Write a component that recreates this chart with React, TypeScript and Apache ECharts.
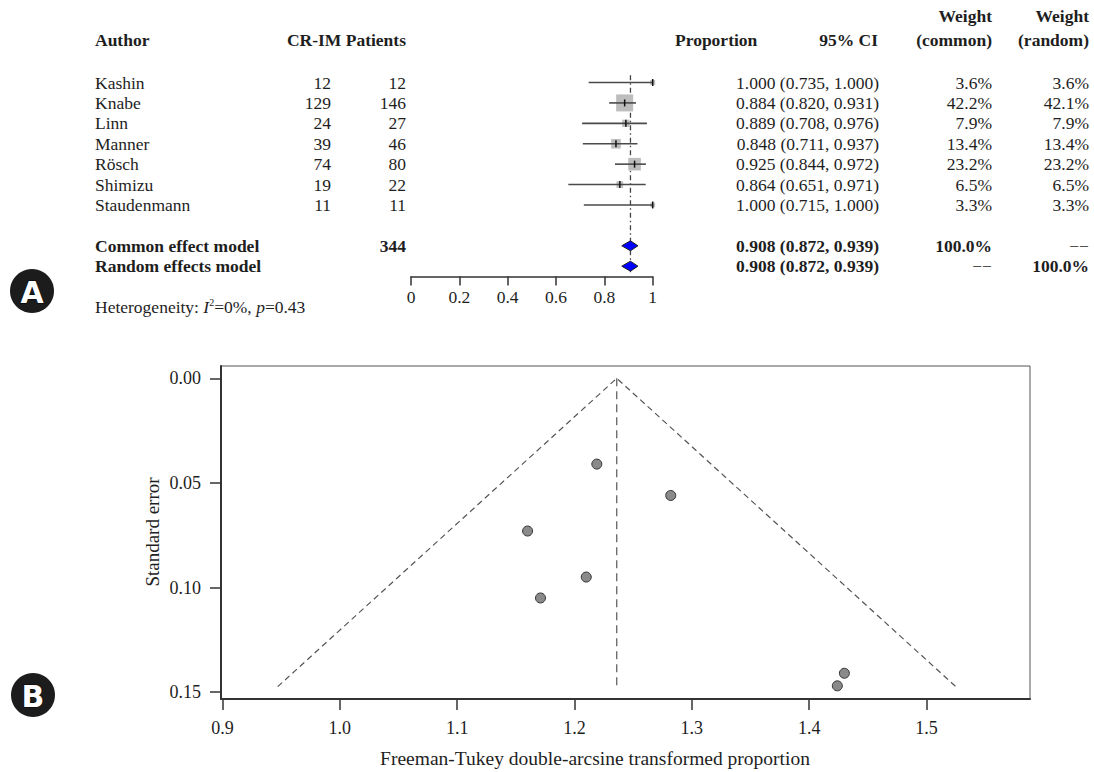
import React, { useEffect, useRef } from "react";
import * as echarts from "echarts";

// ---------- data (forest plot, panel A) ----------
const authors = ["Kashin", "Knabe", "Linn", "Manner", "Rösch", "Shimizu", "Staudenmann"];
const events = [12, 129, 24, 39, 74, 19, 11];
const totals = [12, 146, 27, 46, 80, 22, 11];
const proportions = [1.0, 0.884, 0.889, 0.848, 0.925, 0.864, 1.0];
const ciLower = [0.735, 0.82, 0.708, 0.711, 0.844, 0.651, 0.715];
const ciUpper = [1.0, 0.931, 0.976, 0.937, 0.972, 0.971, 1.0];
const weightCommon = [3.6, 42.2, 7.9, 13.4, 23.2, 6.5, 3.3];
const weightRandom = [3.6, 42.1, 7.9, 13.4, 23.2, 6.5, 3.3];
const totalPatients = 344;
const pooledEstimate = [0.908, 0.908]; // common, random
const pooledLower = [0.872, 0.872];
const pooledUpper = [0.939, 0.939];
const heterogeneityI2 = "0%";
const heterogeneityP = "0.43";

// ---------- data (funnel plot, panel B) ----------
const ftValues = [1.43, 1.219, 1.21, 1.16, 1.282, 1.171, 1.424];
const ftStdErr = [0.141, 0.041, 0.095, 0.073, 0.056, 0.105, 0.147];
const funnelCenter = 1.236;
const funnelMaxSE = 0.1474;
const funnelLeftX = 0.947;
const funnelRightX = 1.525;
const funnelXTicks = [0.9, 1.0, 1.1, 1.2, 1.3, 1.4, 1.5];
const funnelYTicks = [0, 0.05, 0.1, 0.15];

const FONT = '"Liberation Serif", "Times New Roman", serif';
const TXT = "#1e1e1e";
const FS = 17.5;
const MISSING = "\u2212\u2212";

const rowY = (i: number) => 82.5 + i * 20.41;

function txt(text: string, x: number, y: number, align: string, bold = false, size = FS): any {
  return {
    type: "text",
    x,
    y,
    silent: true,
    style: {
      text,
      fill: TXT,
      fontFamily: FONT,
      fontSize: size,
      fontWeight: bold ? "bold" : "normal",
      align,
      verticalAlign: "middle",
      textAlign: align,
      textVerticalAlign: "middle",
    },
  };
}

function badge(letter: string, cx: number, cy: number): any[] {
  return [
    { type: "circle", shape: { cx, cy, r: 22 }, style: { fill: "#1c1c1c" }, silent: true },
    {
      type: "text",
      x: cx,
      y: cy + 1,
      silent: true,
      style: {
        text: letter,
        fill: "#fff",
        stroke: "#000",
        lineWidth: 1,
        fontFamily: '"DejaVu Sans", sans-serif',
        fontWeight: "bold",
        fontSize: 30,
        align: "center",
        verticalAlign: "middle",
        textAlign: "center",
        textVerticalAlign: "middle",
      },
    },
  ];
}

export default function App() {
  const ref = useRef<HTMLDivElement>(null);

  useEffect(() => {
    document.body.style.margin = "0";
    if (!ref.current) return;
    const chart = echarts.init(ref.current, null, { renderer: "svg" });

    const graphics: any[] = [];
    graphics.push(txt("Author", 95, 40, "left", true));
    graphics.push(txt("CR-IM Patients", 406, 40, "right", true));
    graphics.push(txt("Proportion", 675, 40, "left", true));
    graphics.push(txt("95% CI", 878, 40, "right", true));
    graphics.push(txt("Weight", 992, 16, "right", true));
    graphics.push(txt("(common)", 992, 40, "right", true));
    graphics.push(txt("Weight", 1089, 16, "right", true));
    graphics.push(txt("(random)", 1089, 40, "right", true));

    authors.forEach((a, i) => {
      const y = rowY(i);
      graphics.push(txt(a, 95, y, "left"));
      graphics.push(txt(String(events[i]), 331, y, "right"));
      graphics.push(txt(String(totals[i]), 406, y, "right"));
      graphics.push(
        txt(
          `${proportions[i].toFixed(3)} (${ciLower[i].toFixed(3)}, ${ciUpper[i].toFixed(3)})`,
          879,
          y,
          "right"
        )
      );
      graphics.push(txt(`${weightCommon[i].toFixed(1)}%`, 992, y, "right"));
      graphics.push(txt(`${weightRandom[i].toFixed(1)}%`, 1089, y, "right"));
    });

    const yC = rowY(8);
    const yR = rowY(9);
    graphics.push(txt("Common effect model", 95, yC, "left", true));
    graphics.push(txt(String(totalPatients), 406, yC, "right", true));
    graphics.push(
      txt(
        `${pooledEstimate[0].toFixed(3)} (${pooledLower[0].toFixed(3)}, ${pooledUpper[0].toFixed(3)})`,
        879,
        yC,
        "right",
        true
      )
    );
    graphics.push(txt("100.0%", 992, yC, "right", true));
    graphics.push(txt(MISSING, 1089, yC, "right", false));
    graphics.push(txt("Random effects model", 95, yR, "left", true));
    graphics.push(
      txt(
        `${pooledEstimate[1].toFixed(3)} (${pooledLower[1].toFixed(3)}, ${pooledUpper[1].toFixed(3)})`,
        879,
        yR,
        "right",
        true
      )
    );
    graphics.push(txt(MISSING, 992, yR, "right", false));
    graphics.push(txt("100.0%", 1089, yR, "right", true));

    graphics.push({
      type: "text",
      x: 95,
      y: 307,
      silent: true,
      style: {
        text: `{n|Heterogeneity: }{i|I}{s|2}{n|=${heterogeneityI2}, }{i|p}{n|=${heterogeneityP}}`,
        fill: TXT,
        fontFamily: FONT,
        fontSize: FS,
        align: "left",
        verticalAlign: "middle",
        textAlign: "left",
        textVerticalAlign: "middle",
        rich: {
          n: { fontFamily: FONT, fontSize: FS, fill: TXT, lineHeight: 20 },
          i: { fontFamily: FONT, fontSize: FS, fontStyle: "italic", fill: TXT, lineHeight: 20 },
          s: { fontFamily: FONT, fontSize: 10, fill: TXT, lineHeight: 20, verticalAlign: "top" },
        },
      },
    });

    graphics.push(txt("Freeman-Tukey double-arcsine transformed proportion", 595, 758, "center", false, 19.5));
    graphics.push({
      ...txt("Standard error", 152, 532, "center", false, 19),
      rotation: Math.PI / 2,
    });

    graphics.push(...badge("A", 32, 291));
    graphics.push(...badge("B", 33, 695));

    const option: any = {
      animation: false,
      backgroundColor: "#fff",
      grid: [
        { left: 411, right: 441.3, top: 62.1, bottom: 495.6 },
        { left: 221, right: 64, top: 366, bottom: 73, show: true, borderColor: "#555", borderWidth: 1 },
      ],
      xAxis: [
        {
          gridIndex: 0,
          type: "value",
          min: 0,
          max: 1,
          interval: 0.2,
          axisLine: { show: true, onZero: false, lineStyle: { color: "#333", width: 1.5 } },
          axisTick: { show: true, length: 9, lineStyle: { color: "#333", width: 1.5 } },
          axisLabel: {
            fontFamily: FONT,
            fontSize: FS,
            color: TXT,
            margin: 12,
            formatter: (v: number) => String(+v.toFixed(1)),
          },
          splitLine: { show: false },
        },
        {
          gridIndex: 1,
          type: "value",
          min: 0.8987,
          max: 1.5882,
          axisLine: { show: true, onZero: false, lineStyle: { color: "#333", width: 2 } },
          axisTick: { show: true, length: 11, customValues: funnelXTicks, lineStyle: { color: "#333", width: 1.5 } },
          axisLabel: {
            customValues: funnelXTicks,
            fontFamily: FONT,
            fontSize: 18,
            color: TXT,
            margin: 20,
            formatter: (v: number) => v.toFixed(1),
          },
          splitLine: { show: false },
        },
      ],
      yAxis: [
        { gridIndex: 0, type: "value", min: -1, max: 9.5, inverse: true, show: false, axisLine: { onZero: false } },
        {
          gridIndex: 1,
          type: "value",
          min: -0.0059,
          max: 0.1533,
          inverse: true,
          axisLine: { show: true, onZero: false, lineStyle: { color: "#333", width: 2 } },
          axisTick: { show: true, length: 11, customValues: funnelYTicks, lineStyle: { color: "#333", width: 1.5 } },
          axisLabel: {
            customValues: funnelYTicks,
            fontFamily: FONT,
            fontSize: 18,
            color: TXT,
            margin: 20,
            formatter: (v: number) => v.toFixed(2),
          },
          splitLine: { show: false },
        },
      ],
      series: [
        {
          type: "line",
          xAxisIndex: 0,
          yAxisIndex: 0,
          data: [
            [pooledEstimate[0], -0.35],
            [pooledEstimate[0], 9.3],
          ],
          symbol: "none",
          lineStyle: { color: "#444", width: 1.3, type: [5, 3, 1.5, 3] },
          z: 1,
        },
        {
          type: "custom",
          xAxisIndex: 0,
          yAxisIndex: 0,
          data: authors.map((_, i) => [proportions[i], ciLower[i], ciUpper[i], i, weightCommon[i]]),
          encode: { x: [0, 1, 2], y: 3 },
          renderItem: (params: any, api: any) => {
            const est = api.value(0);
            const lo = api.value(1);
            const hi = api.value(2);
            const row = api.value(3);
            const w = api.value(4);
            const pE = api.coord([est, row]);
            const pL = api.coord([lo, row]);
            const pH = api.coord([hi, row]);
            const s = 2.62 * Math.sqrt(w);
            return {
              type: "group",
              children: [
                { type: "rect", shape: { x: pE[0] - s / 2, y: pE[1] - s / 2, width: s, height: s }, style: { fill: "#bdbdbd" } },
                { type: "line", shape: { x1: pL[0], y1: pL[1], x2: pH[0], y2: pH[1] }, style: { stroke: "#4a4a4a", lineWidth: 1.6 } },
                { type: "line", shape: { x1: pE[0], y1: pE[1] - 3.5, x2: pE[0], y2: pE[1] + 3.5 }, style: { stroke: "#111", lineWidth: 1.5 } },
              ],
            };
          },
          z: 2,
        },
        {
          type: "custom",
          xAxisIndex: 0,
          yAxisIndex: 0,
          data: pooledEstimate.map((e, k) => [e, pooledLower[k], pooledUpper[k], 8 + k]),
          encode: { x: [0, 1, 2], y: 3 },
          renderItem: (params: any, api: any) => {
            const row = api.value(3);
            const pE = api.coord([api.value(0), row]);
            const pL = api.coord([api.value(1), row]);
            const pH = api.coord([api.value(2), row]);
            const h = 5;
            return {
              type: "polygon",
              shape: {
                points: [
                  [pL[0], pL[1]],
                  [pE[0], pE[1] - h],
                  [pH[0], pH[1]],
                  [pE[0], pE[1] + h],
                ],
              },
              style: { fill: "#0000ff", stroke: "#222", lineWidth: 1 },
            };
          },
          z: 3,
        },
        {
          type: "line",
          xAxisIndex: 1,
          yAxisIndex: 1,
          data: [
            [funnelLeftX, funnelMaxSE],
            [funnelCenter, 0],
            [funnelRightX, funnelMaxSE],
          ],
          symbol: "none",
          lineStyle: { color: "#555", width: 1.2, type: [6, 4] },
          z: 1,
        },
        {
          type: "line",
          xAxisIndex: 1,
          yAxisIndex: 1,
          data: [
            [funnelCenter, 0],
            [funnelCenter, funnelMaxSE],
          ],
          symbol: "none",
          lineStyle: { color: "#555", width: 1.2, type: [8, 5] },
          z: 1,
        },
        {
          type: "scatter",
          xAxisIndex: 1,
          yAxisIndex: 1,
          data: ftValues.map((v, i) => [v, ftStdErr[i]]),
          symbol: "circle",
          symbolSize: 10,
          itemStyle: { color: "#8a8a8a", borderColor: "#333", borderWidth: 1, opacity: 1 },
          z: 3,
        },
      ],
      graphic: graphics,
    };

    chart.setOption(option);
    return () => chart.dispose();
  }, []);

  return <div ref={ref} style={{ width: 1094, height: 772 }} />;
}
